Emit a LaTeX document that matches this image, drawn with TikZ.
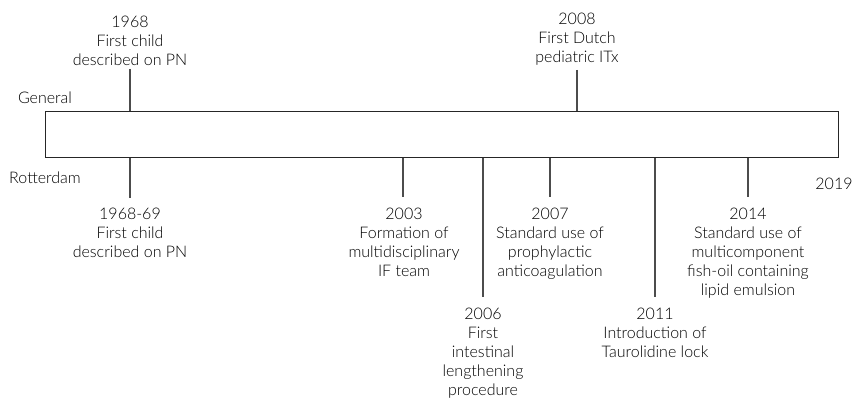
\documentclass[tikz,border=0pt]{standalone}
\usepackage{fontspec}
\setmainfont{Lato Light}
\begin{document}
\begin{tikzpicture}[x=1pt,y=-1pt,
  lbl/.style={align=center,inner sep=0pt,font=\fontsize{16}{19}\selectfont},
  tick/.style={draw=black!70,line width=1.1pt},
  bar/.style={draw=black!85,line width=1.3pt}]
\useasboundingbox (0,0) rectangle (862,401);
\node[bar,minimum width=793pt,minimum height=46pt,inner sep=0,anchor=north west] (tl) at (45,111) {};
% general
\coordinate (g1) at (130,69);
\coordinate (g2) at (577,70);
\draw[tick] (g1) -- (g1 |- tl.north);
\draw[tick] (g2) -- (g2 |- tl.north);
\node[lbl,anchor=south] (t1968) at (130,66) {1968\\First child\\described on PN};
\node[lbl,anchor=south] (t2008) at (577,66) {2008\\First Dutch\\pediatric ITx};
\node[lbl] (gen) at (45,98) {General};
\node[lbl] (rot) at (45,178) {Rotterdam};
\node[lbl] (y2019) at (834,184) {2019};
% rotterdam
\coordinate (r1) at (130,198);
\coordinate (r2) at (403,197);
\coordinate (r3) at (483,297);
\coordinate (r4) at (550,197);
\coordinate (r5) at (655,297);
\coordinate (r6) at (748,197);
\foreach \c in {r1,r2,r3,r4,r5,r6}{\draw[tick] (\c |- tl.south) -- (\c);}
\node[lbl,anchor=north] (b1) at (130,208) {1968-69\\First child\\described on PN};
\node[lbl,anchor=north] (b2) at (404,208) {2003\\Formation of\\multidisciplinary\\IF team};
\node[lbl,anchor=north] (b3) at (483,308) {2006\\First\\intestinal\\lengthening\\procedure};
\node[lbl,anchor=north] (b4) at (550,208) {2007\\Standard use of\\prophylactic\\anticoagulation};
\node[lbl,anchor=north] (b5) at (655,308) {2011\\Introduction of\\Taurolidine lock};
\node[lbl,anchor=north] (b6) at (748,208) {2014\\Standard use of\\multicomponent\\fish-oil containing\\lipid emulsion};
\end{tikzpicture}
\end{document}
